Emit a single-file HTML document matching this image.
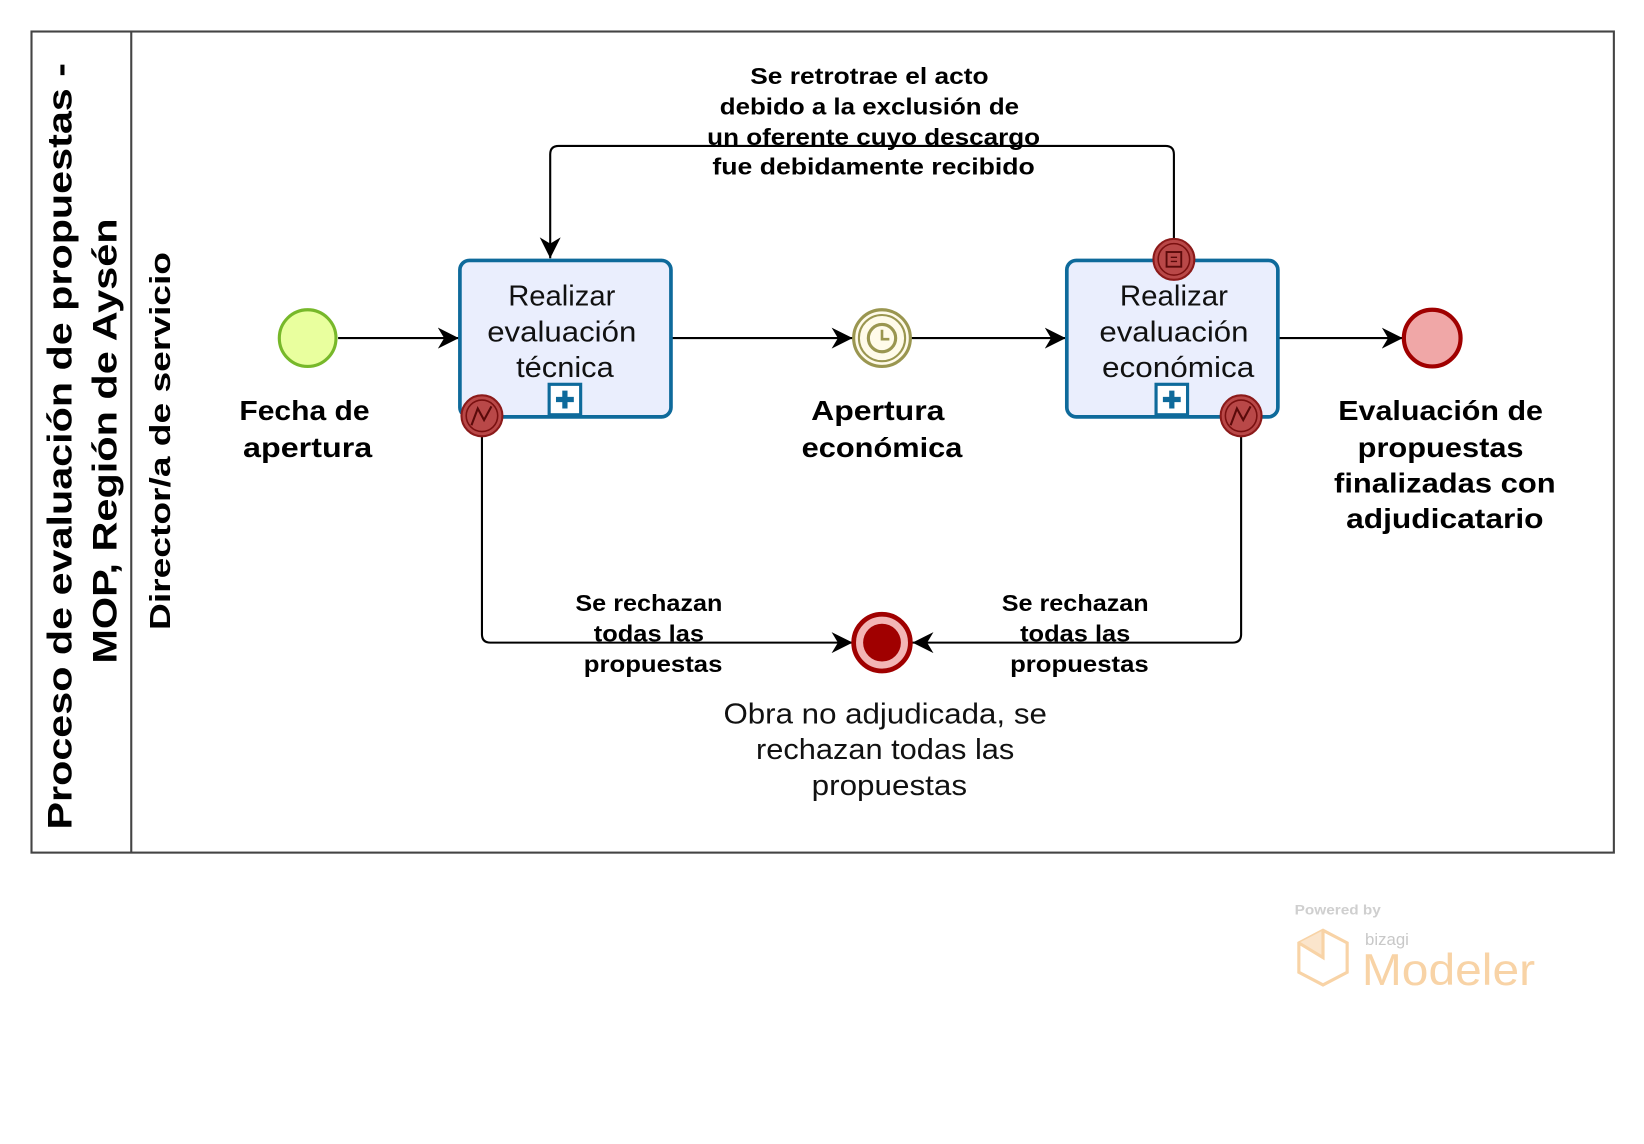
<!DOCTYPE html>
<html><head><meta charset="utf-8">
<style>
html,body{margin:0;padding:0;background:#fff;width:1644px;height:1144px;overflow:hidden}
svg{display:block}
text{font-family:"Liberation Sans",sans-serif}
</style></head><body>
<svg width="1644" height="1144" viewBox="0 0 1565.7 1089.5" xmlns="http://www.w3.org/2000/svg">
<defs>
<marker id="ar" viewBox="0 0 10 10" refX="10" refY="5" markerWidth="20" markerHeight="20" markerUnits="userSpaceOnUse" orient="auto">
<path d="M0,0 L10,5 L0,10 L3,5 z" fill="#000"/>
</marker>
</defs>
<rect x="30" y="30" width="1507" height="782" fill="#fff" stroke="#444" stroke-width="2"/>
<line x1="125" y1="30" x2="125" y2="812" stroke="#444" stroke-width="2"/>
<text transform="translate(68,425) rotate(-90)" text-anchor="middle" font-size="33" font-weight="bold" textLength="730" lengthAdjust="spacingAndGlyphs">Proceso de evaluación de propuestas -</text>
<text transform="translate(111,420) rotate(-90)" text-anchor="middle" font-size="33" font-weight="bold" textLength="424" lengthAdjust="spacingAndGlyphs">MOP, Región de Aysén</text>
<text transform="translate(162,420) rotate(-90)" text-anchor="middle" font-size="27" font-weight="bold" textLength="360" lengthAdjust="spacingAndGlyphs">Director/a de servicio</text>

<g stroke="#000" stroke-width="2" fill="none">
<line x1="322" y1="322" x2="437" y2="322" marker-end="url(#ar)"/>
<line x1="640" y1="322" x2="812" y2="322" marker-end="url(#ar)"/>
<line x1="868" y1="322" x2="1015" y2="322" marker-end="url(#ar)"/>
<line x1="1218" y1="322" x2="1336" y2="322" marker-end="url(#ar)"/>
<path d="M1118,227 V147 Q1118,139 1110,139 H532 Q524,139 524,147 V246" marker-end="url(#ar)"/>
<path d="M459,416 V604 Q459,612 467,612 H812" marker-end="url(#ar)"/>
<path d="M1182,416 V604 Q1182,612 1174,612 H869" marker-end="url(#ar)"/>
</g>

<circle cx="293" cy="322" r="27" fill="#e9ff9e" stroke="#77b82a" stroke-width="3"/>
<g font-size="26" font-weight="bold" text-anchor="middle" lengthAdjust="spacingAndGlyphs">
<text x="290" y="400" textLength="124" lengthAdjust="spacingAndGlyphs">Fecha de</text>
<text x="293" y="435" textLength="123" lengthAdjust="spacingAndGlyphs">apertura</text>
<text x="836" y="400" textLength="127" lengthAdjust="spacingAndGlyphs">Apertura</text>
<text x="840" y="435" textLength="153" lengthAdjust="spacingAndGlyphs">económica</text>
<text x="1372" y="400" textLength="195" lengthAdjust="spacingAndGlyphs">Evaluación de</text>
<text x="1372" y="435" textLength="158" lengthAdjust="spacingAndGlyphs">propuestas</text>
<text x="1376" y="469" textLength="211" lengthAdjust="spacingAndGlyphs">finalizadas con</text>
<text x="1376" y="503" textLength="188" lengthAdjust="spacingAndGlyphs">adjudicatario</text>
</g>

<rect x="438" y="248" width="201" height="149" rx="9" fill="#eaeefd" stroke="#0e6a9b" stroke-width="3.5"/>
<g font-size="27" text-anchor="middle" fill="#111">
<text x="535" y="291" textLength="102" lengthAdjust="spacingAndGlyphs">Realizar</text>
<text x="535" y="325" textLength="142" lengthAdjust="spacingAndGlyphs">evaluación</text>
<text x="538" y="359" textLength="93" lengthAdjust="spacingAndGlyphs">técnica</text>
<text x="1118" y="291" textLength="103" lengthAdjust="spacingAndGlyphs">Realizar</text>
<text x="1118" y="325" textLength="142" lengthAdjust="spacingAndGlyphs">evaluación</text>
<text x="1122" y="359" textLength="145" lengthAdjust="spacingAndGlyphs">económica</text>
</g>
<rect x="523" y="366" width="30" height="29" fill="#fff" stroke="#0e6a9b" stroke-width="3"/>
<path d="M538,372 V389 M529.5,380.5 H546.5" stroke="#0e6a9b" stroke-width="5"/>
<circle cx="459" cy="396" r="19.5" fill="#b94848" stroke="#8b1a1a" stroke-width="2"/>
<circle cx="459" cy="396" r="15" fill="none" stroke="#7a1010" stroke-width="1.5"/>
<path d="M449,405 L455,389 L461,400 L468,387" fill="none" stroke="#5a0a0a" stroke-width="2"/>

<circle cx="840" cy="322" r="27" fill="#fffbea" stroke="#9a9650" stroke-width="3"/>
<circle cx="840" cy="322" r="22" fill="none" stroke="#9a9650" stroke-width="2"/>
<circle cx="840" cy="322" r="13" fill="none" stroke="#9a9650" stroke-width="3"/>
<path d="M840,314 V323 H847" fill="none" stroke="#9a9650" stroke-width="2.5"/>

<rect x="1016" y="248" width="201" height="149" rx="9" fill="#eaeefd" stroke="#0e6a9b" stroke-width="3.5" fill-opacity="1"/>
<g font-size="27" text-anchor="middle" fill="#111">
<text x="1118" y="291" textLength="103" lengthAdjust="spacingAndGlyphs">Realizar</text>
<text x="1118" y="325" textLength="142" lengthAdjust="spacingAndGlyphs">evaluación</text>
<text x="1122" y="359" textLength="145" lengthAdjust="spacingAndGlyphs">económica</text>
</g>
<rect x="1101" y="366" width="30" height="29" fill="#fff" stroke="#0e6a9b" stroke-width="3"/>
<path d="M1116,372 V389 M1107.5,380.5 H1124.5" stroke="#0e6a9b" stroke-width="5"/>
<circle cx="1118" cy="247" r="19.5" fill="#b94848" stroke="#8b1a1a" stroke-width="2"/>
<circle cx="1118" cy="247" r="15" fill="none" stroke="#7a1010" stroke-width="1.5"/>
<rect x="1111" y="240" width="14" height="14" fill="none" stroke="#5a0a0a" stroke-width="1.8"/>
<path d="M1115,245 H1121 M1115,249 H1121" stroke="#5a0a0a" stroke-width="1.3"/>
<circle cx="1182" cy="396" r="19.5" fill="#b94848" stroke="#8b1a1a" stroke-width="2"/>
<circle cx="1182" cy="396" r="15" fill="none" stroke="#7a1010" stroke-width="1.5"/>
<path d="M1172,405 L1178,389 L1184,400 L1191,387" fill="none" stroke="#5a0a0a" stroke-width="2"/>

<circle cx="1364" cy="322" r="27" fill="#f0a7a7" stroke="#a00000" stroke-width="4"/>

<circle cx="840" cy="612" r="27" fill="#f3b5b5" stroke="#a00000" stroke-width="4.5"/>
<circle cx="840" cy="612" r="18" fill="#a00000"/>
<g font-size="27" text-anchor="middle" fill="#111">
<text x="843" y="689" textLength="308" lengthAdjust="spacingAndGlyphs">Obra no adjudicada, se</text>
<text x="843" y="723" textLength="246" lengthAdjust="spacingAndGlyphs">rechazan todas las</text>
<text x="847" y="757" textLength="148" lengthAdjust="spacingAndGlyphs">propuestas</text>
</g>

<g font-size="22" font-weight="bold" text-anchor="middle">
<text x="828" y="80" textLength="227" lengthAdjust="spacingAndGlyphs">Se retrotrae el acto</text>
<text x="828" y="109" textLength="285" lengthAdjust="spacingAndGlyphs">debido a la exclusión de</text>
<text x="832" y="138" textLength="317" lengthAdjust="spacingAndGlyphs">un oferente cuyo descargo</text>
<text x="832" y="166" textLength="307" lengthAdjust="spacingAndGlyphs">fue debidamente recibido</text>
<text x="618" y="582" textLength="140" lengthAdjust="spacingAndGlyphs">Se rechazan</text>
<text x="618" y="611" textLength="105" lengthAdjust="spacingAndGlyphs">todas las</text>
<text x="622" y="640" textLength="132" lengthAdjust="spacingAndGlyphs">propuestas</text>
<text x="1024" y="582" textLength="140" lengthAdjust="spacingAndGlyphs">Se rechazan</text>
<text x="1024" y="611" textLength="105" lengthAdjust="spacingAndGlyphs">todas las</text>
<text x="1028" y="640" textLength="132" lengthAdjust="spacingAndGlyphs">propuestas</text>
</g>

<text x="1233" y="871" font-size="13" font-weight="bold" fill="#cfcfcf" textLength="82" lengthAdjust="spacingAndGlyphs">Powered by</text>
<path d="M1260,886 L1283,898 L1283,926 L1260,938 L1237,926 L1237,898 z" fill="none" stroke="#f8d3a6" stroke-width="3"/>
<path d="M1260,886 L1260,912 L1237,898" fill="#fbe5cc" stroke="#f8d3a6" stroke-width="3"/>
<text x="1300" y="900" font-size="16" fill="#c8c8c8">bizagi</text>
<text x="1297" y="938" font-size="42" fill="#f8d3a6" textLength="165" lengthAdjust="spacingAndGlyphs">Modeler</text>
</svg>
</body></html>
